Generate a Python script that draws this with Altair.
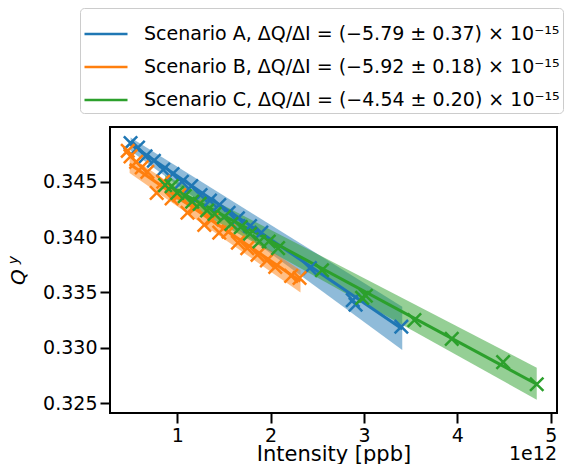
import altair as alt
import pandas as pd

# ---- data ----
labels = [
    "Scenario A, ΔQ/ΔI = (−5.79 ± 0.37) × 10⁻¹⁵",
    "Scenario B, ΔQ/ΔI = (−5.92 ± 0.18) × 10⁻¹⁵",
    "Scenario C, ΔQ/ΔI = (−4.54 ± 0.20) × 10⁻¹⁵",
]
colors = ["#1f77b4", "#ff7f0e", "#2ca02c"]

# measured points (intensity in units of 1e12 ppb, Q_y)
a_x = [0.50, 0.58, 0.66, 0.75, 0.85, 0.95, 1.05, 1.15, 1.25, 1.35, 1.45, 1.55, 1.65, 1.78, 1.90, 2.42, 2.88, 2.91, 3.40]
a_q = [0.3485, 0.3481, 0.3473, 0.3469, 0.3461, 0.3457, 0.3450, 0.3446, 0.3438, 0.3433, 0.3429, 0.3422, 0.3417, 0.3410, 0.3404, 0.3372, 0.3343, 0.3339, 0.3319]

b_x = [0.47, 0.50, 0.56, 0.62, 0.68, 0.78, 0.85, 0.94, 1.02, 1.11, 1.20, 1.29, 1.37, 1.45, 1.55, 1.65, 1.75, 1.86, 1.96, 2.05, 2.22, 2.31]
b_q = [0.3478, 0.3473, 0.3468, 0.3463, 0.3459, 0.3440, 0.3450, 0.3435, 0.3438, 0.3422, 0.3427, 0.3411, 0.3416, 0.3404, 0.3405, 0.3395, 0.3390, 0.3384, 0.3379, 0.3373, 0.3365, 0.3363]

c_x = [0.87, 0.94, 1.00, 1.08, 1.16, 1.24, 1.32, 1.40, 1.50, 1.58, 1.68, 1.78, 1.88, 1.98, 2.08, 2.55, 2.98, 3.02, 3.54, 3.94, 4.49, 4.85]
c_q = [0.3447, 0.3446, 0.3440, 0.3437, 0.3432, 0.3430, 0.3424, 0.3421, 0.3418, 0.3412, 0.3409, 0.3403, 0.3396, 0.3396, 0.3390, 0.3370, 0.3345, 0.3347, 0.3325, 0.3308, 0.3287, 0.3267]

# fitted lines (end points) and their bands
fit_a_x = [0.50, 3.41]; fit_a_q = [0.3484, 0.3317]
fit_b_x = [0.49, 2.32]; fit_b_q = [0.3466, 0.3360]
fit_c_x = [0.87, 4.85]; fit_c_q = [0.3448, 0.3267]
band_a_lo = [0.3478, 0.3298]; band_a_hi = [0.3490, 0.3337]
band_b_lo = [0.3458, 0.3350]; band_b_hi = [0.3473, 0.3370]
band_c_lo = [0.3440, 0.3253]; band_c_hi = [0.3456, 0.3282]

x_ticks = [1, 2, 3, 4, 5]
y_ticks = [0.325, 0.330, 0.335, 0.340, 0.345, 0.350]

# ---- tables ----
pts = pd.concat([
    pd.DataFrame({"label": labels[0], "x": a_x, "q": a_q}),
    pd.DataFrame({"label": labels[1], "x": b_x, "q": b_q}),
    pd.DataFrame({"label": labels[2], "x": c_x, "q": c_q}),
])
fits = pd.concat([
    pd.DataFrame({"label": labels[0], "x": fit_a_x, "q": fit_a_q, "lo": band_a_lo, "hi": band_a_hi}),
    pd.DataFrame({"label": labels[1], "x": fit_b_x, "q": fit_b_q, "lo": band_b_lo, "hi": band_b_hi}),
    pd.DataFrame({"label": labels[2], "x": fit_c_x, "q": fit_c_q, "lo": band_c_lo, "hi": band_c_hi}),
])

FONT = "DejaVu Sans"
xscale = alt.Scale(domain=[0.28, 5.067], nice=False, zero=False)
yscale = alt.Scale(domain=[0.3241, 0.34995], nice=False, zero=False)
cscale = alt.Scale(domain=labels, range=colors)

xaxis = alt.Axis(
    values=x_ticks, format="d", title="Intensity [ppb]", titleY=47,
    titleBaseline="alphabetic", titleFontSize=21, titleFontWeight="normal",
    titleFont=FONT, titleColor="black", labelFlush=False)
yaxis = alt.Axis(values=y_ticks, format=".3f", title=None, labelFlush=False)
legend = alt.Legend(
    title=None, titlePadding=0, orient="none", legendX=-30, legendY=-119,
    symbolType="stroke", symbolSize=1850, symbolStrokeWidth=2.5,
    symbolFillColor="transparent", symbolOpacity=1,
    labelFontSize=19, labelFont=FONT, labelColor="black", labelLimit=0,
    labelOffset=15, padding=3, rowPadding=-1,
    strokeColor="#cccccc", fillColor="white", cornerRadius=4)

xenc = alt.X("x:Q", scale=xscale, axis=xaxis)
color = alt.Color("label:N", scale=cscale, legend=legend)

bands = alt.Chart(fits).mark_area(opacity=0.5).encode(
    x=xenc,
    y=alt.Y("lo:Q", scale=yscale, axis=yaxis),
    y2="hi:Q",
    color=color,
)

lines = alt.Chart(fits).mark_line(strokeWidth=3).encode(
    x=xenc,
    y=alt.Y("q:Q", scale=yscale, axis=yaxis),
    color=color,
)

points = alt.Chart(pts).mark_point(
    shape="M-1,-1L1,1M-1,1L1,-1", filled=False, size=180, strokeWidth=2.5, opacity=1
).encode(
    x=xenc,
    y=alt.Y("q:Q", scale=yscale, axis=yaxis),
    color=color,
)

one = alt.Data(values=[{"k": 1}])
q_label = alt.Chart(one).mark_text(
    text="Q", font=FONT, fontStyle="italic", fontSize=20, angle=270,
    align="center", baseline="middle", color="black"
).encode(x=alt.value(-91), y=alt.value(150))
y_sub = alt.Chart(one).mark_text(
    text="y", font=FONT, fontStyle="italic", fontSize=14, angle=270,
    align="center", baseline="middle", color="black"
).encode(x=alt.value(-96), y=alt.value(133))
offset_txt = alt.Chart(one).mark_text(
    text="1e12", font=FONT, fontSize=19, align="right",
    baseline="alphabetic", color="black"
).encode(x=alt.value(447), y=alt.value(333))

chart = alt.layer(bands, lines, points, q_label, y_sub, offset_txt).properties(
    width=447, height=286,
    autosize=alt.AutoSizeParams(type="none"),
    padding={"left": 102, "top": 119, "right": 22, "bottom": 51},
).configure_view(
    stroke="black", strokeWidth=2
).configure_axis(
    grid=False, domain=False, tickColor="black", tickWidth=2, tickSize=10,
    labelFont=FONT, labelFontSize=19, labelColor="black", labelPadding=3,
)

chart.save("out.html", embed_options={"renderer": "svg", "actions": False})
